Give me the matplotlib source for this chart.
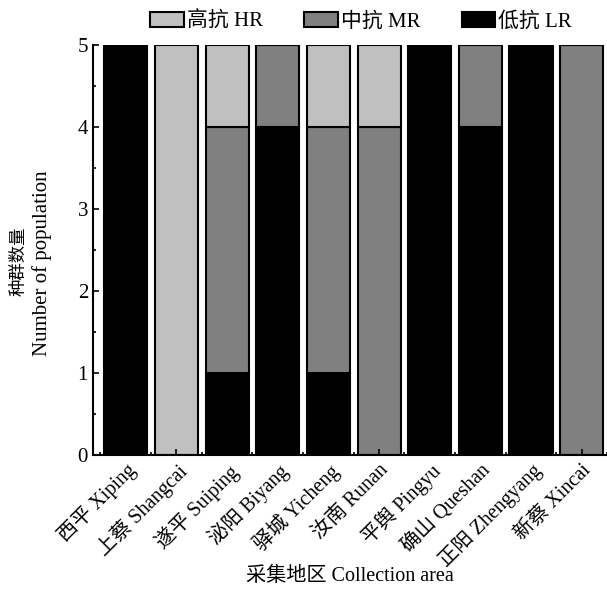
import matplotlib.pyplot as plt
from matplotlib.ticker import MultipleLocator

plt.rcParams['font.family'] = ['Liberation Serif', 'Noto Sans CJK SC']
plt.rcParams['axes.unicode_minus'] = False

# Collection sites
sites = ['西平 Xiping', '上蔡 Shangcai', '遂平 Suiping', '泌阳 Biyang', '驿城 Yicheng',
         '汝南 Runan', '平舆 Pingyu', '确山 Queshan', '正阳 Zhengyang', '新蔡 Xincai']

# Number of populations per resistance class
low_lr = [5, 0, 1, 4, 1, 0, 5, 4, 5, 0]
mid_mr = [0, 0, 3, 1, 3, 4, 0, 1, 0, 5]
high_hr = [0, 5, 1, 0, 1, 1, 0, 0, 0, 0]

fig = plt.figure(figsize=(6.07, 5.89), dpi=100)
ax = fig.add_axes([0.153, 0.2275, 0.847, 0.696])

x = range(len(sites))
base_mr = low_lr
base_hr = [a + b for a, b in zip(low_lr, mid_mr)]

ax.bar(x, low_lr, width=0.85, color='#000000', edgecolor='black', linewidth=1.5, label='低抗 LR')
ax.bar(x, mid_mr, width=0.85, bottom=base_mr, color='#808080', edgecolor='black', linewidth=1.5, label='中抗 MR')
ax.bar(x, high_hr, width=0.85, bottom=base_hr, color='#c0c0c0', edgecolor='black', linewidth=1.5, label='高抗 HR')

ax.set_xlim(-0.65, 9.45)
ax.set_ylim(0, 5)
ax.yaxis.set_major_locator(MultipleLocator(1))
ax.yaxis.set_minor_locator(MultipleLocator(0.5))
ax.set_xticks(list(x))
ax.set_xticks([i + 0.5 for i in range(-1, len(sites))], minor=True)
ax.set_xticklabels(sites, rotation=45, ha='right', rotation_mode='anchor')
ax.tick_params(axis='both', which='both', direction='in', width=1.2)
ax.tick_params(axis='both', which='major', length=4, labelsize=15)
ax.tick_params(axis='both', which='minor', length=2)
ax.tick_params(axis='x', labelsize=14.5, pad=4)

for side in ['top', 'right']:
    ax.spines[side].set_visible(False)
for side in ['left', 'bottom']:
    ax.spines[side].set_linewidth(1.5)

# y label: English line from set_ylabel, Chinese line added beside it
ax.set_ylabel('Number of population', fontsize=15)
ax.yaxis.set_label_coords(-0.08, 0.468)
ax.text(-0.142, 0.473, '种群数量', rotation=90, fontsize=12.5, transform=ax.transAxes,
        ha='center', va='center')

ax.set_xlabel('采集地区 Collection area', fontsize=14.5)
ax.xaxis.set_label_coords(0.5, -0.272)

handles, labels = ax.get_legend_handles_labels()
fig.legend(handles[::-1], labels[::-1], loc='upper center', bbox_to_anchor=(0.595, 1.012), ncol=3,
           frameon=False, fontsize=15, handlelength=1.6, handleheight=0.7, handletextpad=0.15,
           columnspacing=2.0)

fig.savefig('out.png', dpi=100)
